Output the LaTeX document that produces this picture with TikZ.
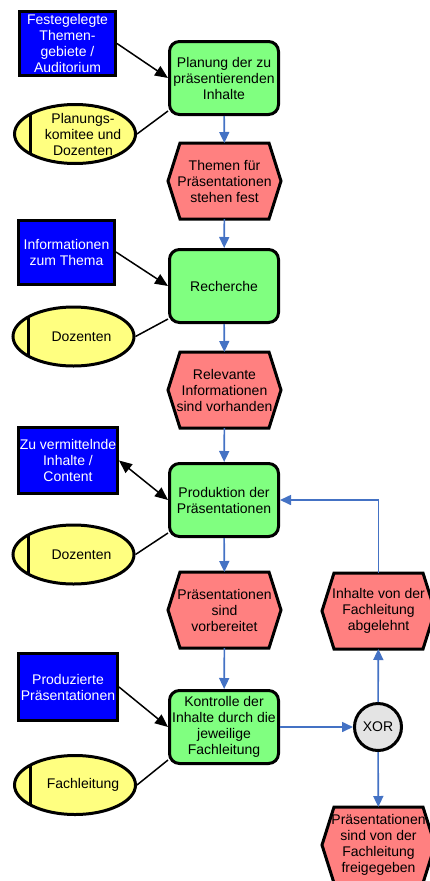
\documentclass[tikz,border=0pt]{standalone}
\usepackage{fontspec}
\setmainfont{Liberation Sans}
\usetikzlibrary{arrows.meta,shapes.geometric,backgrounds}

\definecolor{fnfill}{RGB}{128,255,128}
\definecolor{evfill}{RGB}{255,128,128}
\definecolor{orgfill}{RGB}{255,255,128}
\definecolor{infofill}{RGB}{0,0,255}
\definecolor{xorfill}{RGB}{228,228,228}
\definecolor{flowblue}{RGB}{68,114,196}

\tikzset{
  txt/.style={font=\fontsize{14}{16}\selectfont, align=center, inner sep=0pt},
  function/.style={txt, draw, line width=3pt, fill=fnfill, rounded corners=10pt,
    minimum width=109pt, minimum height=73pt},
  event/.style={txt, minimum width=110pt, minimum height=73pt, outer sep=1.5pt},
  evline/.style={draw, line width=3pt, fill=evfill, line join=miter},
  info/.style={txt, draw, line width=3pt, fill=infofill, text=white,
    minimum width=96pt, minimum height=64pt},
  orgunit/.style={ellipse, draw, line width=3pt, fill=orgfill, inner sep=0pt,
    minimum width=121pt, minimum height=59pt,
    path picture={\draw[line width=3pt]
      ([xshift=15.5pt]path picture bounding box.north west) --
      ([xshift=15.5pt]path picture bounding box.south west);}},
  orgtext/.style={txt, xshift=8pt},
  xorgate/.style={txt, circle, draw, line width=3pt, fill=xorfill, minimum size=47pt},
  flow/.style={-{Triangle[length=11pt,width=10pt]}, draw=flowblue, line width=1.6pt},
  assoc/.style={line width=1.5pt},
}

% event hexagon drawn round an event node
\newcommand{\evshape}[1]{%
  \path[evline] (#1.west) -- ([xshift=12pt]#1.north west) -- ([xshift=-12pt]#1.north east)
    -- (#1.east) -- ([xshift=-12pt]#1.south east) -- ([xshift=12pt]#1.south west) -- cycle;}

\begin{document}
\begin{tikzpicture}[x=1pt, y=-1pt, >={Triangle[length=13pt,width=11pt]}]
  \useasboundingbox (0,0) rectangle (430,881);

  \node[info] (info1) at (67.5,43.5) {Festegelegte\\Themen-\\gebiete /\\Auditorium};
  \node[function] (fn1) at (224,78) {Planung der zu\\präsentierenden\\Inhalte};
  \node[orgunit, label={[orgtext]center:{Planungs-\\komitee und\\Dozenten}}] (org1) at (75,134) {};
  \node[event] (ev1) at (224.5,181) {Themen für\\Präsentationen\\stehen fest};

  \node[info] (info2) at (66.5,252) {Informationen\\zum Thema};
  \node[function] (fn2) at (224,286) {Recherche};
  \node[orgunit, label={[orgtext]center:Dozenten}] (org2) at (73.5,336.5) {};
  \node[event] (ev2) at (224.5,390) {Relevante\\Informationen\\sind vorhanden};

  \node[info, minimum width=99pt, minimum height=66pt] (info3) at (68,460.5) {Zu vermittelnde\\Inhalte /\\Content};
  \node[function] (fn3) at (224,500) {Produktion der\\Präsentationen};
  \node[orgunit, label={[orgtext]center:Dozenten}] (org3) at (73.5,554.5) {};
  \node[event] (ev3) at (224.5,610) {Präsentationen\\sind\\vorbereitet};

  \node[info, minimum width=99pt, minimum height=67pt] (info4) at (68,687) {Produzierte\\Präsentationen};
  \node[function] (fn4) at (224,727) {Kontrolle der\\Inhalte durch die\\jeweilige\\Fachleitung};
  \node[orgunit, label={[orgtext]center:Fachleitung}] (org4) at (75,785) {};

  \node[xorgate] (xor) at (378,727) {XOR};
  \node[event] (evRej) at (378.5,611) {Inhalte von der\\Fachleitung\\abgelehnt};
  \node[event] (evOk) at (378.5,845) {Präsentationen\\sind von der\\Fachleitung\\freigegeben};

  \begin{scope}[on background layer]
    \foreach \e in {ev1,ev2,ev3,evRej,evOk}
      \evshape{\e};
  \end{scope}

  % inputs and organisational units
  \draw[assoc,->] (info1.east) -- (fn1.west);
  \draw[assoc,->] (info2.east) -- (fn2.west);
  \draw[assoc,<->] (info3.east) -- (fn3.west);
  \draw[assoc,->] (info4.east) -- (fn4.west);
  \draw[assoc] (org1.east) -- ([yshift=5pt]fn1.south west);
  \draw[assoc] (org2.east) -- ([yshift=5pt]fn2.south west);
  \draw[assoc] (org3.east) -- ([yshift=5pt]fn3.south west);
  \draw[assoc] (org4.east) -- ([yshift=5pt]fn4.south west);

  % control flow
  \draw[flow] (fn1) -- (ev1);
  \draw[flow] (ev1) -- (fn2);
  \draw[flow] (fn2) -- (ev2);
  \draw[flow] (ev2) -- (fn3);
  \draw[flow] (fn3) -- (ev3);
  \draw[flow] (ev3) -- (fn4);
  \draw[flow] (fn4) -- (xor);
  \draw[flow] (xor) -- (evRej);
  \draw[flow] (xor) -- (evOk);
  \draw[flow] (evRej.north) |- (fn3.east);
\end{tikzpicture}
\end{document}
